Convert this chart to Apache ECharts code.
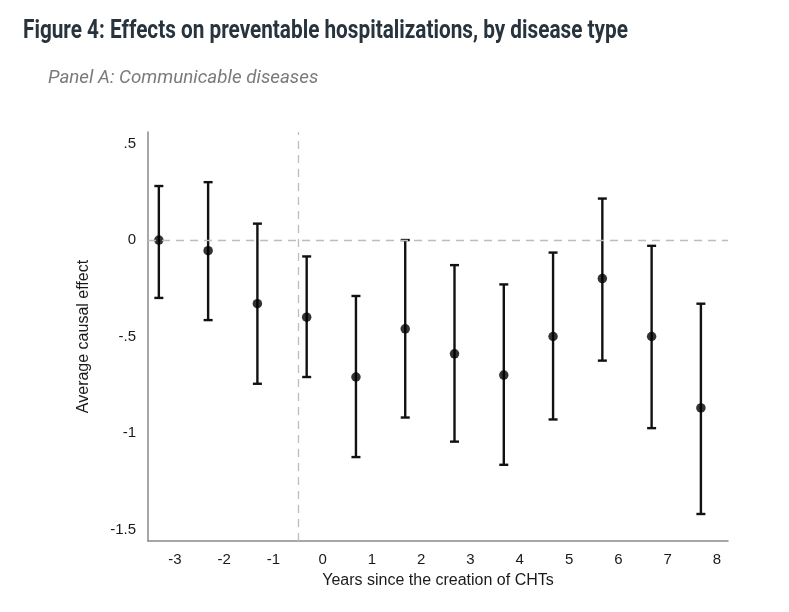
<!doctype html>
<html lang="en">
  <head>
    <meta charset="utf-8">
    <title>Figure 4: Effects on preventable hospitalizations</title>
    <script src="https://cdn.jsdelivr.net/npm/echarts@6/dist/echarts.min.js"></script>
    <style>
      html, body { margin: 0; padding: 0; background: #fff; }
      #chart { width: 789px; height: 612px; }
    </style>
  </head>
  <body>
    <div id="chart"></div>
    <script>
    // years relative to creation of CHTs
    var years = [-3, -2, -1, 0, 1, 2, 3, 4, 5, 6, 7, 8];
    // point estimates and 95% CI
    var estimate = [0.00, -0.055, -0.33, -0.40, -0.71, -0.46, -0.59, -0.70, -0.50, -0.20, -0.50, -0.87];
    var upper    = [0.28, 0.30, 0.085, -0.085, -0.29, 0.00, -0.13, -0.23, -0.065, 0.215, -0.03, -0.33];
    var lower    = [-0.30, -0.415, -0.745, -0.71, -1.125, -0.92, -1.045, -1.165, -0.93, -0.625, -0.975, -1.42];
    var yTicks = [0.5, 0, -0.5, -1, -1.5];
    var treatLine = -0.17;

    var chart = echarts.init(document.getElementById('chart'), null, { renderer: 'canvas' });

    var pts = years.map(function (y, i) { return [y, estimate[i]]; });
    var bars = years.map(function (y, i) { return [y, lower[i], upper[i]]; });

    function yLabel(v) {
      if (v === 0) return '0';
      return String(v).replace('0.', '.');
    }

    var option = {
      animation: false,
      backgroundColor: '#fff',
      // title is a condensed face, so squeeze a normal bold font horizontally
      graphic: [
        {
          type: 'text',
          left: 23, top: 19,
          scaleX: 0.83,
          style: {
            text: 'Figure 4: Effects on preventable hospitalizations, by disease type',
            font: "bold 25px Roboto, sans-serif",
            fill: '#27333d'
          }
        },
        {
          type: 'text',
          left: 48, top: 69,
          style: {
            text: 'Panel A: Communicable diseases',
            font: "italic 18.8px Roboto, sans-serif",
            fill: '#7a7a7a'
          }
        }
      ],
      grid: { left: 148, right: 61, top: 132, bottom: 71 },
      xAxis: {
        type: 'value',
        min: -3.22, max: 8.55,
        name: 'Years since the creation of CHTs',
        nameLocation: 'middle',
        nameGap: 32,
        nameTextStyle: { fontFamily: "'Liberation Sans', Arial, sans-serif", fontSize: 16, color: '#1a1a1a' },
        axisLine: { onZero: false, lineStyle: { color: '#8a8a8a', width: 1.5 } },
        axisTick: { show: false },
        splitLine: { show: false },
        axisLabel: {
          customValues: years,
          margin: 11,
          padding: [0, 0, 0, 32],
          fontFamily: "'Liberation Sans', Arial, sans-serif", fontSize: 15, color: '#1a1a1a'
        }
      },
      yAxis: {
        type: 'value',
        min: -1.56, max: 0.56,
        name: 'Average causal effect',
        nameLocation: 'middle',
        nameGap: 56,
        nameTextStyle: { fontFamily: "'Liberation Sans', Arial, sans-serif", fontSize: 16, color: '#1a1a1a' },
        axisLine: { show: true, onZero: false, lineStyle: { color: '#8a8a8a', width: 1.5 } },
        axisTick: { show: false },
        splitLine: { show: false },
        axisLabel: {
          customValues: yTicks,
          margin: 12,
          formatter: yLabel,
          fontFamily: "'Liberation Sans', Arial, sans-serif", fontSize: 15, color: '#1a1a1a'
        }
      },
      series: [
        {
          type: 'custom',
          data: bars,
          z: 3,
          renderItem: function (params, api) {
            var x = api.value(0);
            var lo = api.coord([x, api.value(1)]);
            var hi = api.coord([x, api.value(2)]);
            var cap = 4.5;
            var st = { stroke: '#111', lineWidth: 2.4 };
            return {
              type: 'group',
              children: [
                { type: 'line', shape: { x1: lo[0], y1: lo[1], x2: hi[0], y2: hi[1] }, style: st },
                { type: 'line', shape: { x1: lo[0] - cap, y1: lo[1], x2: lo[0] + cap, y2: lo[1] }, style: st },
                { type: 'line', shape: { x1: hi[0] - cap, y1: hi[1], x2: hi[0] + cap, y2: hi[1] }, style: st }
              ]
            };
          }
        },
        {
          type: 'scatter',
          data: pts,
          z: 4,
          symbol: 'circle',
          symbolSize: 9.5,
          itemStyle: { color: '#000' },
          markLine: {
            silent: true,
            symbol: 'none',
            label: { show: false },
            lineStyle: { color: '#bdbdbd', type: [8, 6], width: 1.3 },
            data: [{ yAxis: 0 }, { xAxis: treatLine }]
          }
        }
      ]
    };

    chart.setOption(option);
    </script>
  </body>
</html>
